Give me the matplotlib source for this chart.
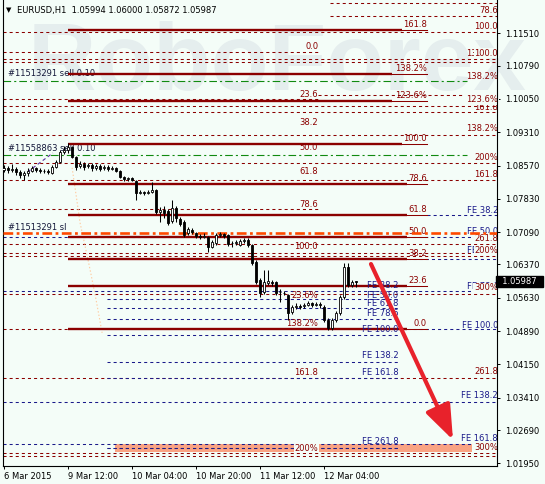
import matplotlib
matplotlib.use('Agg')
import matplotlib.pyplot as plt
import matplotlib.transforms as mtransforms
import numpy as np

plt.rcParams['lines.scale_dashes'] = False
plt.rcParams['font.family'] = ['DejaVu Sans']

BG = '#F4FDF8'
DR = '#8B0000'
NV = '#1A1A8A'
GR = '#108A10'
OR = '#FF4A00'
FS = 6

# ---------------- candles (EURUSD H1) ----------------
opens = [1.0847, 1.0851, 1.0847, 1.0849, 1.0843, 1.0836, 1.0840, 1.0845, 1.0851, 1.0847,
         1.0845, 1.0845, 1.0840, 1.0854, 1.0865, 1.0887, 1.0892, 1.0898, 1.0876, 1.0856,
         1.0860, 1.0856, 1.0858, 1.0851, 1.0856, 1.0851, 1.0854, 1.0849, 1.0851, 1.0845,
         1.0831, 1.0827, 1.0829, 1.0823, 1.0796, 1.0798, 1.0796, 1.0798, 1.0803, 1.0754,
         1.0758, 1.0756, 1.0734, 1.0763, 1.0738, 1.0731, 1.0707, 1.0714, 1.0707, 1.0700,
         1.0698, 1.0698, 1.0676, 1.0685, 1.0703, 1.0705, 1.0703, 1.0685, 1.0685, 1.0680,
         1.0689, 1.0691, 1.0680, 1.0642, 1.0602, 1.0576, 1.0596, 1.0598, 1.0598, 1.0576,
         1.0574, 1.0569, 1.0531, 1.0542, 1.0545, 1.0545, 1.0547, 1.0551, 1.0547, 1.0549,
         1.0542, 1.0514, 1.0496, 1.0514, 1.0529, 1.0565, 1.0631, 1.0591, 1.05994]
highs = [1.0858, 1.0856, 1.0860, 1.0854, 1.0847, 1.0845, 1.0851, 1.0856, 1.0854, 1.0851,
         1.0849, 1.0849, 1.0858, 1.0869, 1.0892, 1.0900, 1.0907, 1.0900, 1.0878, 1.0867,
         1.0865, 1.0863, 1.0863, 1.0860, 1.0860, 1.0858, 1.0858, 1.0856, 1.0854, 1.0847,
         1.0834, 1.0831, 1.0831, 1.0825, 1.0803, 1.0800, 1.0803, 1.0820, 1.0805, 1.0765,
         1.0767, 1.0760, 1.0780, 1.0767, 1.0743, 1.0736, 1.0720, 1.0718, 1.0709, 1.0705,
         1.0707, 1.0700, 1.0691, 1.0707, 1.0709, 1.0707, 1.0705, 1.0689, 1.0691, 1.0694,
         1.0696, 1.0696, 1.0683, 1.0647, 1.0607, 1.0625, 1.0625, 1.0602, 1.0600, 1.0582,
         1.0578, 1.0571, 1.0547, 1.0551, 1.0549, 1.0551, 1.0556, 1.0554, 1.0554, 1.0554,
         1.0547, 1.0518, 1.0518, 1.0534, 1.0569, 1.0640, 1.0640, 1.0602, 1.06000]
lows = [1.0843, 1.0840, 1.0843, 1.0836, 1.0829, 1.0825, 1.0834, 1.0843, 1.0843, 1.0840,
        1.0840, 1.0838, 1.0838, 1.0851, 1.0863, 1.0883, 1.0885, 1.0874, 1.0847, 1.0851,
        1.0847, 1.0851, 1.0845, 1.0847, 1.0845, 1.0847, 1.0845, 1.0847, 1.0843, 1.0829,
        1.0823, 1.0823, 1.0823, 1.0780, 1.0794, 1.0791, 1.0794, 1.0796, 1.0749, 1.0731,
        1.0740, 1.0725, 1.0729, 1.0731, 1.0723, 1.0698, 1.0703, 1.0705, 1.0696, 1.0694,
        1.0696, 1.0665, 1.0674, 1.0680, 1.0698, 1.0696, 1.0678, 1.0676, 1.0680, 1.0678,
        1.0685, 1.0676, 1.0636, 1.0594, 1.0565, 1.0571, 1.0591, 1.0589, 1.0569, 1.0554,
        1.0569, 1.0514, 1.0527, 1.0538, 1.0538, 1.0540, 1.0545, 1.0542, 1.0545, 1.0540,
        1.0509, 1.0491, 1.0491, 1.0509, 1.0525, 1.0560, 1.0587, 1.0587, 1.05872]
closes = [1.0851, 1.0847, 1.0849, 1.0843, 1.0836, 1.0840, 1.0845, 1.0851, 1.0847, 1.0845,
          1.0845, 1.0843, 1.0854, 1.0865, 1.0887, 1.0892, 1.0898, 1.0876, 1.0854, 1.0860,
          1.0854, 1.0858, 1.0851, 1.0856, 1.0849, 1.0854, 1.0849, 1.0851, 1.0845, 1.0831,
          1.0827, 1.0829, 1.0825, 1.0796, 1.0798, 1.0796, 1.0798, 1.0803, 1.0754, 1.0758,
          1.0751, 1.0729, 1.0763, 1.0740, 1.0727, 1.0703, 1.0716, 1.0709, 1.0700, 1.0698,
          1.0700, 1.0676, 1.0687, 1.0703, 1.0705, 1.0700, 1.0683, 1.0685, 1.0687, 1.0689,
          1.0691, 1.0680, 1.0640, 1.0598, 1.0574, 1.0598, 1.0600, 1.0596, 1.0574, 1.0576,
          1.0574, 1.0529, 1.0542, 1.0545, 1.0542, 1.0547, 1.0551, 1.0547, 1.0549, 1.0547,
          1.0514, 1.0496, 1.0514, 1.0529, 1.0565, 1.0631, 1.0591, 1.0599, 1.05987]

x_ticks = [0, 16, 32, 48, 64, 80]
x_labels = ['6 Mar 2015', '9 Mar 12:00', '10 Mar 04:00', '10 Mar 20:00', '11 Mar 12:00', '12 Mar 04:00']
y_ticks = [1.11510, 1.10790, 1.10050, 1.09310, 1.08570, 1.07830, 1.07090,
           1.06370, 1.05630, 1.04890, 1.04150, 1.03410, 1.02690, 1.01950]

# ---------------- main Fibonacci retracement (solid) ----------------
fib_start = 16
fib_end = 105.8
fib_prices = [1.1158, 1.1061, 1.1001, 1.0905, 1.0816, 1.0747, 1.0699, 1.0649, 1.0589, 1.0494]
fib_labels = ['161.8', '138.2%', '123.6%', '100.0', '78.6', '61.8', '50.0', '38.2', '23.6', '0.0']
fib_thick_end = [99.6, 97.1, 97.1, 99.6, 100.8, 100.8, 100.8, 100.8, 100.8, 100.8]

# ---------------- dashed levels ----------------
L, R = -0.25, 123.3
brown_levels = [1.1219, 1.1189, 1.1153, 1.1110, 1.1093, 1.1087, 1.1014, 1.1005, 1.0989, 1.0975,
                1.0925, 1.0862, 1.0824, 1.0760, 1.0683, 1.0663, 1.0655, 1.0571, 1.0494, 1.0385,
                1.0217, 1.0212]
brown_from = [81.6, 81.6, L, L, L, L, 78.6, L, L, L, L, L, L, L, L, L, L, L, L, L, L, L]
brown_to = [R, R, R, 78.6, R, R, 114.8, 78.6, R, R, R, R, R, 78.6, R, R, R, R, 16.1, R, R, R]

blue_levels = [1.0746, 1.0697, 1.0649, 1.0579, 1.0560, 1.0541, 1.0516, 1.0494, 1.0480, 1.0421,
               1.0385, 1.0332, 1.0238, 1.0229]
blue_from = [105.8, L, 100.8, L, 25.8, 25.8, 25.8, 100.8, 25.8, 25.8, 25.8, L, L, 25.8]
blue_to = [R, R, R, R, 98.6, 98.6, 98.6, R, 98.6, 98.6, 98.6, R, R, 98.6]

green_levels = [1.1045, 1.0880]
green_to = 115.8
sl_level = 1.0708

zone_x = [27.8, 117.1]
zone_p = [1.0220, 1.0239]

# ---------------- labels ----------------
right_text = ['78.6', '100.0', '138.2%', '100.0', '138.2%', '161.8', '123.6%', '138.2%', '200%', '161.8',
              'FE 38.2', 'FE 50.0', '261.8', 'FE 61.8', '200%', 'FE 78.6', '300%', 'FE 100.0',
              '261.8', 'FE 138.2', 'FE 161.8', '300%']
right_price = [1.1201, 1.1167, 1.1107, 1.1107, 1.1054, 1.0986, 1.1004, 1.0940, 1.0874, 1.0836,
               1.0758, 1.0710, 1.0695, 1.0669, 1.0669, 1.0588, 1.0585, 1.0502,
               1.0398, 1.0345, 1.0251, 1.0230]
right_blue = [0, 0, 0, 0, 0, 0, 0, 0, 0, 0, 1, 1, 0, 1, 0, 1, 0, 1, 0, 1, 1, 0]
right_bg = [0, 0, 0, 1, 0, 0, 1, 0, 0, 0, 0, 0, 1, 0, 1, 0, 1, 0, 0, 0, 0, 1]

mid_text = ['0.0', '23.6', '38.2', '50.0', '61.8', '78.6', '100.0', '161.8', '23.6%', '138.2%', '200%']
mid_price = [1.1121, 1.1014, 1.0952, 1.0896, 1.0843, 1.0770, 1.0677, 1.0397, 1.0569, 1.0505, 1.0229]
mid_bg = [0, 0, 0, 0, 0, 0, 0, 0, 0, 0, 1]

fe_text = ['FE 38.2', 'FE 50.0', 'FE 61.8', 'FE 78.6', 'FE 100.0', 'FE 138.2', 'FE 161.8', 'FE 261.8']
fe_price = [1.0591, 1.0569, 1.0551, 1.0527, 1.0492, 1.0434, 1.0397, 1.0243]

trade_text = ['#11513291 sell 0.10', '#11558863 sell 0.10', '#11513291 sl']
trade_price = [1.1061, 1.0894, 1.0720]

arc_x = [17.1, 18.1, 19.1, 20.3, 21.6, 23.1, 24.6]
arc_p = [1.0852, 1.0791, 1.0729, 1.0680, 1.0625, 1.0558, 1.0485]
trend_x = [6.0, 12.3]
trend_p = [1.0843, 1.0885]

arrow_from = (91.8, 1.0638)
arrow_to = (112.3, 1.0247)

# ---------------- figure ----------------
W, H = 545, 484
fig = plt.figure(figsize=(W / 100, H / 100), dpi=100)
fig.patch.set_facecolor(BG)
ax = fig.add_axes([2.7 / W, 18 / H, (497 - 2.7) / W, 466 / H])
ax.set_facecolor(BG)
ax.set_xlim(L, R)
ax.set_ylim(1.01890, 1.12250)

# watermark
ax.text(28 / W, 1 - 90 / H, 'RoboForex', transform=fig.transFigure, fontsize=68,
        fontweight='bold', family='Liberation Sans', color='#E5EEEE', zorder=0.2,
        va='baseline', ha='left', clip_on=False)

dash = (0, (2.2, 2.2))
for p, a, b in zip(brown_levels, brown_from, brown_to):
    ax.plot([a, b], [p, p], color=DR, lw=0.75, linestyle=dash, zorder=1)
for p, a, b in zip(blue_levels, blue_from, blue_to):
    ax.plot([a, b], [p, p], color=NV, lw=0.75, linestyle=dash, zorder=1.1)
for p in green_levels:
    ax.plot([L, green_to], [p, p], color=GR, lw=0.8, linestyle=(0, (5.5, 2.2, 1.5, 2.2)), zorder=1.2)

# target zone
ax.fill_between(zone_x, zone_p[0], zone_p[1], color='#F9A383', lw=0, zorder=1.05)
ax.plot([25.8, 98.6], [blue_levels[-1]] * 2, color=NV, lw=0.75, linestyle=dash, zorder=1.15)

# main fib
for p, lab, te in zip(fib_prices, fib_labels, fib_thick_end):
    ax.plot([fib_start, te], [p, p], color=DR, lw=1.7, solid_capstyle='butt', zorder=1.5)
    ax.plot([te, fib_end], [p, p], color=DR, lw=0.75, zorder=1.5)
    ax.annotate(lab, (fib_end, p), xytext=(0, 0.6), textcoords='offset points',
                ha='right', va='bottom', fontsize=FS, color=DR, zorder=2)

# extra drawings
ax.plot(arc_x, arc_p, color='#FFCBA0', lw=0.8, linestyle=(0, (1, 1.5)), zorder=1.3)
ax.plot(trend_x, trend_p, color='#5A2A9A', lw=0.8, linestyle=(0, (2.5, 2)), zorder=1.3)

# text labels
bgbox = dict(boxstyle='square,pad=0.08', fc=BG, ec='none')
for t, p, bl, bg in zip(right_text, right_price, right_blue, right_bg):
    ax.text(123.55, p, t, ha='right', va='center', fontsize=FS, color=NV if bl else DR,
            bbox=bgbox if bg else None, zorder=2.5, clip_on=False)
for t, p, bg in zip(mid_text, mid_price, mid_bg):
    ax.text(78.6, p, t, ha='right', va='center', fontsize=FS, color=DR,
            bbox=bgbox if bg else None, zorder=2.2)
for t, p in zip(fe_text, fe_price):
    ax.text(98.6, p, t, ha='right', va='center', fontsize=FS, color=NV, zorder=2.2)
for t, p in zip(trade_text, trade_price):
    ax.text(1.1, p, t, ha='left', va='center', fontsize=FS, color='#14183A', zorder=1.4)

# stop-loss line (over labels)
ax.plot([L, R], [sl_level, sl_level], color=OR, lw=1.9,
        linestyle=(0, (7, 2.5, 2, 2.5)), zorder=2.8)

# candles
bars = np.arange(len(opens))
ax.vlines(bars, lows, highs, color='black', lw=0.75, zorder=3)
for i, o, c in zip(bars, opens, closes):
    lo, hi = min(o, c), max(o, c)
    h = max(hi - lo, 0.00004)
    ax.bar(i, h, bottom=lo - (h - (hi - lo)) / 2, width=0.6,
           color='white' if c > o else 'black', edgecolor='black', lw=0.6, zorder=3.1)

# arrow
ax.annotate('', xy=arrow_to, xytext=arrow_from,
            arrowprops=dict(arrowstyle='-|>,head_length=0.85,head_width=0.32', color='#E8222B',
                            lw=3, mutation_scale=25, shrinkA=0, shrinkB=0), zorder=6)

# axes styling
ax.spines['top'].set_visible(False)
for s in ['left', 'bottom', 'right']:
    ax.spines[s].set_color('black')
    ax.spines[s].set_linewidth(0.8)
ax.yaxis.tick_right()
ax.set_yticks(y_ticks)
ax.set_yticklabels(['%.5f' % v for v in y_ticks])
ax.set_xticks(x_ticks)
ax.set_xticklabels(x_labels)
ax.tick_params(axis='y', direction='out', length=2.5, width=0.7, pad=3.5, labelsize=FS, colors='black')
ax.tick_params(axis='x', direction='out', length=2.5, width=0.7, pad=1.5, labelsize=FS, colors='black')
for lbl in ax.get_xticklabels():
    lbl.set_ha('left')

# current price box
trans = mtransforms.blended_transform_factory(ax.transAxes, ax.transData)
ax.text(1.0, closes[-1], '  %.5f  ' % closes[-1], transform=trans, ha='left', va='center',
        fontsize=FS, color='white', zorder=7, clip_on=False,
        bbox=dict(boxstyle='square,pad=0.15', fc='black', ec='black'))

# header
header = 'EURUSD,H1  %.5f %.5f %.5f %.5f' % (opens[-1], highs[-1], lows[-1], closes[-1])
fig.text(6 / W, 1 - 10 / H, '\u25BC', fontsize=5, va='center', ha='left', color='black')
fig.text(17 / W, 1 - 10 / H, header, fontsize=FS, va='center', ha='left', color='black')

fig.savefig('out.png', dpi=100, facecolor=BG)
